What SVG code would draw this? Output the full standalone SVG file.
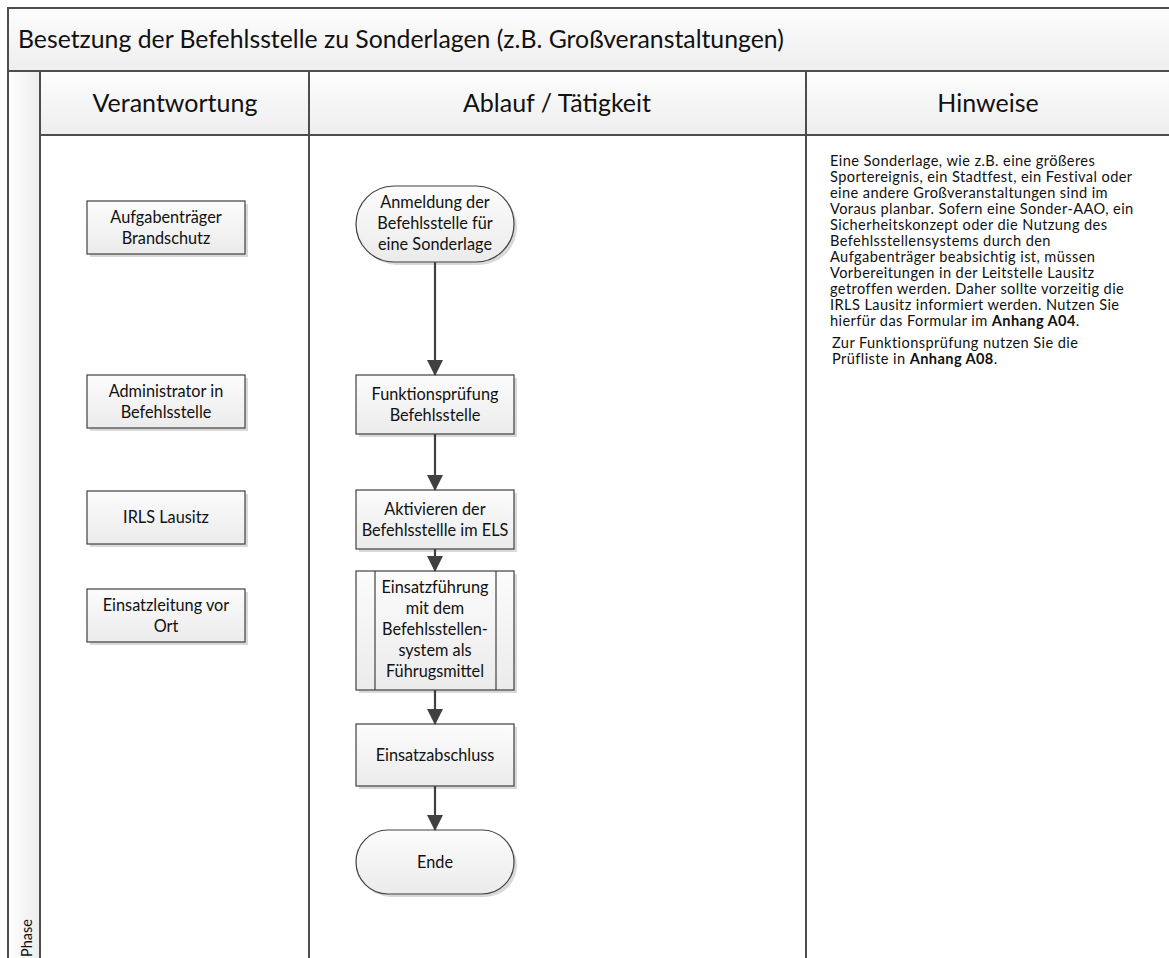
<svg xmlns="http://www.w3.org/2000/svg" width="1169" height="958" viewBox="0 0 1169 958">
  <defs>
    <linearGradient id="bandFill" x1="0" y1="0" x2="0" y2="1">
      <stop offset="0" stop-color="#fdfdfd"/>
      <stop offset="1" stop-color="#eeeeee"/>
    </linearGradient>
    <linearGradient id="phaseFill" x1="0" y1="0" x2="1" y2="0">
      <stop offset="0" stop-color="#ffffff"/>
      <stop offset="1" stop-color="#ececec"/>
    </linearGradient>
    <linearGradient id="nodeFill" x1="0" y1="0" x2="0" y2="1">
      <stop offset="0" stop-color="#fcfcfc"/>
      <stop offset="1" stop-color="#ebebeb"/>
    </linearGradient>
    <marker id="arrow" viewBox="0 0 16 16" refX="15" refY="8" markerWidth="16" markerHeight="16" markerUnits="userSpaceOnUse" orient="auto">
      <path d="M0,0 L16,8 L0,16 Z" fill="#404040"/>
    </marker>
  </defs>
  <style>
    .band { fill: url(#bandFill); stroke: #4d4d4d; stroke-width: 2; }
    .phase { fill: url(#phaseFill); stroke: #4d4d4d; stroke-width: 2; }
    .lane { fill: #ffffff; stroke: #4d4d4d; stroke-width: 2; }
    .node { fill: url(#nodeFill); stroke: #404040; stroke-width: 1.2; }
    .shadow { fill: #d9d9d9; }
    .inner { fill: none; stroke: #404040; stroke-width: 1.2; }
    .edge { fill: none; stroke: #404040; stroke-width: 2.2; marker-end: url(#arrow); }
    text { font-family: Lato, "Liberation Sans", sans-serif; fill: #111111; }
    .title { font-size: 24.8px; }
    .head { font-size: 25px; text-anchor: middle; }
    .label { font-size: 16.3px; text-anchor: middle; }
    .note { font-size: 14.6px; letter-spacing: 0.4px; }
    .note tspan.b { font-weight: bold; }
  </style>

  <!-- pool frame, title band, header row and lanes -->
  <g id="pool">
    <rect class="lane" x="8" y="8" width="1175" height="960"/>
    <rect class="band" x="8" y="8" width="1175" height="63"/>
    <text class="title" x="18" y="48">Besetzung der Befehlsstelle zu Sonderlagen (z.B. Großveranstaltungen)</text>
    <rect class="phase" x="8" y="71" width="32" height="897"/>
    <text x="0" y="0" font-size="14.5" transform="translate(32,957) rotate(-90)">Phase</text>
    <rect class="band" x="40" y="71" width="269" height="64"/>
    <rect class="band" x="309" y="71" width="497" height="64"/>
    <rect class="band" x="806" y="71" width="377" height="64"/>
    <text class="head" x="175" y="112">Verantwortung</text>
    <text class="head" x="557" y="112">Ablauf / Tätigkeit</text>
    <text class="head" x="988" y="112">Hinweise</text>
    <rect class="lane" x="40" y="135" width="269" height="833"/>
    <rect class="lane" x="309" y="135" width="497" height="833"/>
    <rect class="lane" x="806" y="135" width="377" height="833"/>
  </g>

  <!-- responsibility boxes -->
  <g id="role-aufgabentraeger">
    <rect class="shadow" x="90" y="204" width="158" height="53"/>
    <rect class="node" x="87" y="201" width="158" height="53"/>
    <text class="label" x="166" y="223">Aufgabenträger</text>
    <text class="label" x="166" y="244">Brandschutz</text>
  </g>
  <g id="role-administrator">
    <rect class="shadow" x="90" y="378" width="158" height="53"/>
    <rect class="node" x="87" y="375" width="158" height="53"/>
    <text class="label" x="166" y="397">Administrator in</text>
    <text class="label" x="166" y="418">Befehlsstelle</text>
  </g>
  <g id="role-irls">
    <rect class="shadow" x="90" y="494" width="158" height="53"/>
    <rect class="node" x="87" y="491" width="158" height="53"/>
    <text class="label" x="166" y="523">IRLS Lausitz</text>
  </g>
  <g id="role-einsatzleitung">
    <rect class="shadow" x="90" y="592" width="158" height="53"/>
    <rect class="node" x="87" y="589" width="158" height="53"/>
    <text class="label" x="166" y="611">Einsatzleitung vor</text>
    <text class="label" x="166" y="632">Ort</text>
  </g>

  <!-- process steps -->
  <g id="step-anmeldung">
    <rect class="shadow" x="359" y="189" width="158" height="76" rx="38" ry="38"/>
    <rect class="node" x="356" y="186" width="158" height="76" rx="38" ry="38"/>
    <text class="label" x="435" y="208">Anmeldung der</text>
    <text class="label" x="435" y="229">Befehlsstelle für</text>
    <text class="label" x="435" y="250">eine Sonderlage</text>
  </g>
  <g id="step-funktionspruefung">
    <rect class="shadow" x="359" y="378" width="158" height="59"/>
    <rect class="node" x="356" y="375" width="158" height="59"/>
    <text class="label" x="435" y="400">Funktionsprüfung</text>
    <text class="label" x="435" y="421">Befehlsstelle</text>
  </g>
  <g id="step-aktivieren">
    <rect class="shadow" x="359" y="493" width="158" height="59"/>
    <rect class="node" x="356" y="490" width="158" height="59"/>
    <text class="label" x="435" y="515">Aktivieren der</text>
    <text class="label" x="435" y="536">Befehlsstellle im ELS</text>
  </g>
  <g id="step-einsatzfuehrung">
    <rect class="shadow" x="359" y="574" width="158" height="119"/>
    <rect class="node" x="356" y="571" width="158" height="119"/>
    <line class="inner" x1="375" y1="571" x2="375" y2="690"/>
    <line class="inner" x1="496" y1="571" x2="496" y2="690"/>
    <text class="label" x="435" y="593">Einsatzführung</text>
    <text class="label" x="435" y="614">mit dem</text>
    <text class="label" x="435" y="635">Befehlsstellen-</text>
    <text class="label" x="435" y="656">system als</text>
    <text class="label" x="435" y="677">Führugsmittel</text>
  </g>
  <g id="step-einsatzabschluss">
    <rect class="shadow" x="359" y="727" width="158" height="62"/>
    <rect class="node" x="356" y="724" width="158" height="62"/>
    <text class="label" x="435" y="761">Einsatzabschluss</text>
  </g>
  <g id="step-ende">
    <rect class="shadow" x="359" y="833" width="158" height="64" rx="32" ry="32"/>
    <rect class="node" x="356" y="830" width="158" height="64" rx="32" ry="32"/>
    <text class="label" x="435" y="868">Ende</text>
  </g>

  <!-- connectors -->
  <g id="connectors">
    <line class="edge" x1="435" y1="262" x2="435" y2="375"/>
    <line class="edge" x1="435" y1="434" x2="435" y2="490"/>
    <line class="edge" x1="435" y1="549" x2="435" y2="571"/>
    <line class="edge" x1="435" y1="690" x2="435" y2="724"/>
    <line class="edge" x1="435" y1="786" x2="435" y2="830"/>
  </g>

  <!-- notes column -->
  <g id="notes">
    <text class="note" x="830" y="166">Eine Sonderlage, wie z.B. eine größeres</text>
    <text class="note" x="830" y="182">Sportereignis, ein Stadtfest, ein Festival oder</text>
    <text class="note" x="830" y="198">eine andere Großveranstaltungen sind im</text>
    <text class="note" x="830" y="214">Voraus planbar. Sofern eine Sonder-AAO, ein</text>
    <text class="note" x="830" y="230">Sicherheitskonzept oder die Nutzung des</text>
    <text class="note" x="830" y="246">Befehlsstellensystems durch den</text>
    <text class="note" x="830" y="262">Aufgabenträger beabsichtig ist, müssen</text>
    <text class="note" x="830" y="278">Vorbereitungen in der Leitstelle Lausitz</text>
    <text class="note" x="830" y="294">getroffen werden. Daher sollte vorzeitig die</text>
    <text class="note" x="830" y="310">IRLS Lausitz informiert werden. Nutzen Sie</text>
    <text class="note" x="830" y="326">hierfür das Formular im <tspan class="b">Anhang A04</tspan>.</text>
    <text class="note" x="832" y="348">Zur Funktionsprüfung nutzen Sie die</text>
    <text class="note" x="832" y="364">Prüfliste in <tspan class="b">Anhang A08</tspan>.</text>
  </g>
</svg>
